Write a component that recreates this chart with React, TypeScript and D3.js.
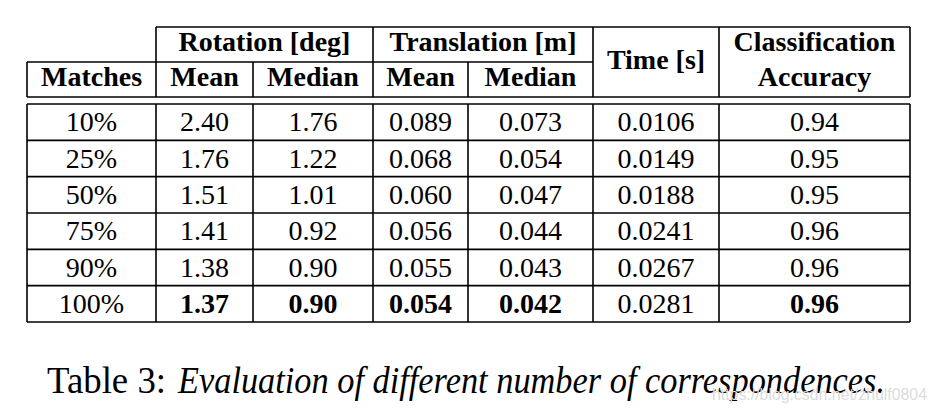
import React from "react";
import * as d3 from "d3";

const matches = ["10%", "25%", "50%", "75%", "90%", "100%"];
const rotMean = ["2.40", "1.76", "1.51", "1.41", "1.38", "1.37"];
const rotMedian = ["1.76", "1.22", "1.01", "0.92", "0.90", "0.90"];
const transMean = ["0.089", "0.068", "0.060", "0.056", "0.055", "0.054"];
const transMedian = ["0.073", "0.054", "0.047", "0.044", "0.043", "0.042"];
const timeS = ["0.0106", "0.0149", "0.0188", "0.0241", "0.0267", "0.0281"];
const accuracy = ["0.94", "0.95", "0.95", "0.96", "0.96", "0.96"];
const boldLastRow = [false, true, true, true, true, false, true];

const groupHeaders = ["Rotation [deg]", "Translation [m]"];
const subHeaders = ["Matches", "Mean", "Median", "Mean", "Median"];
const caption = "Table 3:";
const captionItalic = "Evaluation of different number of correspondences.";
const watermark = "https://blog.csdn.net/zhulf0804";

const colEdges = [27, 156, 253, 373, 468, 593, 719, 910];
const FONT = '"Liberation Serif", "Times New Roman", Times, serif';

export default function App() {
  const columns = [matches, rotMean, rotMedian, transMean, transMedian, timeS, accuracy];
  const rowY = d3.scaleLinear().domain([0, matches.length]).range([104, 322]);
  const cx = (i: number) => (colEdges[i] + colEdges[i + 1]) / 2;
  const L = colEdges[0];
  const R = colEdges[colEdges.length - 1];
  const sw = 1.6;
  const lines: [number, number, number, number][] = [];
  lines.push([colEdges[1], 27, R, 27]);
  lines.push([L, 62, colEdges[1], 62]);
  lines.push([colEdges[1], 62, colEdges[5], 62]);
  lines.push([L, 97, R, 97]);
  for (let r = 0; r <= matches.length; r++) lines.push([L, rowY(r), R, rowY(r)]);
  lines.push([L, 62, L, 97]);
  lines.push([colEdges[1], 27, colEdges[1], 97]);
  lines.push([colEdges[2], 62, colEdges[2], 97]);
  lines.push([colEdges[3], 27, colEdges[3], 97]);
  lines.push([colEdges[4], 62, colEdges[4], 97]);
  lines.push([colEdges[5], 27, colEdges[5], 97]);
  lines.push([colEdges[6], 27, colEdges[6], 97]);
  lines.push([R, 27, R, 97]);
  colEdges.forEach((x) => lines.push([x, rowY(0), x, rowY(matches.length)]));

  return (
    <svg width={936} height={416} style={{ position: "absolute", left: 0, top: 0, background: "#fff" }}>
      <rect width={936} height={416} fill="#fff" />
      {lines.map((l, i) => (
        <line key={i} x1={l[0]} y1={l[1]} x2={l[2]} y2={l[3]} stroke="#000" strokeWidth={sw} />
      ))}
      <g fontFamily={FONT} fontSize={28} fill="#000" textAnchor="middle">
        <text x={(colEdges[1] + colEdges[3]) / 2} y={51} fontWeight="bold">{groupHeaders[0]}</text>
        <text x={(colEdges[3] + colEdges[5]) / 2} y={51} fontWeight="bold">{groupHeaders[1]}</text>
        {subHeaders.map((h, i) => (
          <text key={i} x={cx(i)} y={86} fontWeight="bold">{h}</text>
        ))}
        <text x={cx(5)} y={69} fontWeight="bold">Time [s]</text>
        <text x={cx(6)} y={51} fontWeight="bold">Classification</text>
        <text x={cx(6)} y={86} fontWeight="bold">Accuracy</text>
        {columns.map((col, ci) =>
          col.map((v, ri) => (
            <text
              key={ci + "-" + ri}
              x={cx(ci)}
              y={(rowY(ri) + rowY(ri + 1)) / 2 + 9}
              fontWeight={ri === matches.length - 1 && boldLastRow[ci] ? "bold" : "normal"}
            >
              {v}
            </text>
          ))
        )}
      </g>
      <text fontFamily={FONT} x={47} y={393} fontSize={38} textLength={119} lengthAdjust="spacingAndGlyphs">{caption}</text>
      <text fontFamily={FONT} x={178} y={393} fontSize={38} fontStyle="italic" textLength={707} lengthAdjust="spacingAndGlyphs">{captionItalic}</text>
      <text x={712} y={400} fontFamily='"Liberation Sans", Arial, sans-serif' fontSize={17} fill="#dcdcdc" textLength={215} lengthAdjust="spacingAndGlyphs">{watermark}</text>
    </svg>
  );
}
